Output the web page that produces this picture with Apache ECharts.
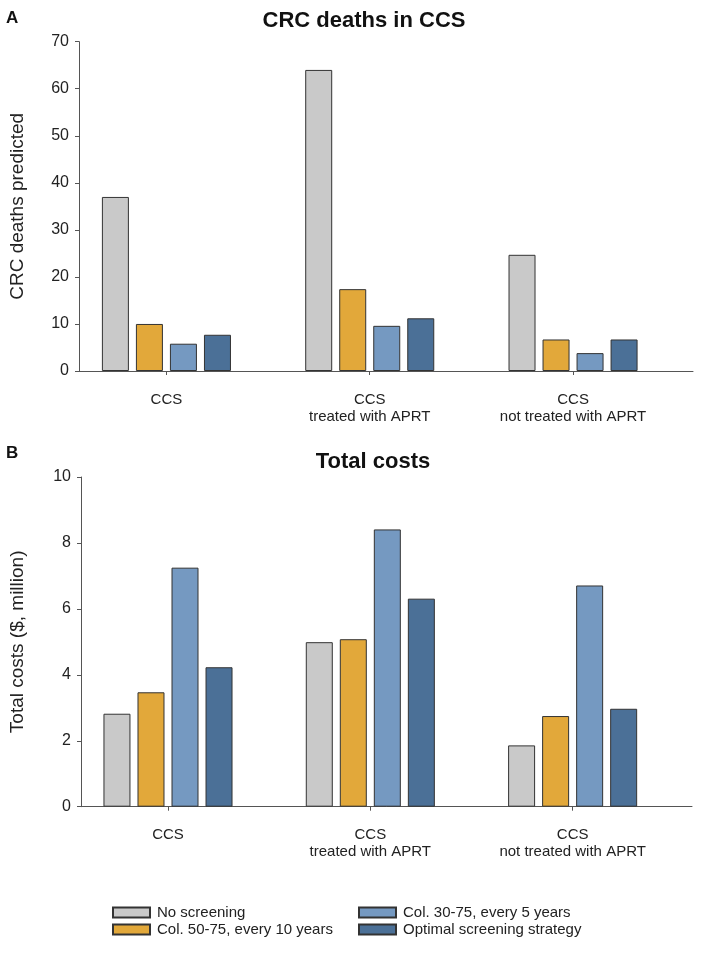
<!DOCTYPE html>
<html><head><meta charset="utf-8">
<script src="https://cdn.jsdelivr.net/npm/echarts@6/dist/echarts.min.js"></script>
<style>html,body{margin:0;padding:0;background:#fff}#c{width:701px;height:956px}</style>
</head><body><div id="c"></div>
<script>
var categories = ['CCS', 'CCS\ntreated with APRT', 'CCS\nnot treated with APRT'];
var seriesNames = ['No screening', 'Col. 50-75, every 10 years', 'Col. 30-75, every 5 years', 'Optimal screening strategy'];
var deathsNoScreening = [37, 64, 24.7];
var deathsCol5075 = [10, 17.4, 6.7];
var deathsCol3075 = [5.8, 9.6, 3.8];
var deathsOptimal = [7.7, 11.2, 6.7];
var costsNoScreening = [2.82, 4.99, 1.86];
var costsCol5075 = [3.47, 5.08, 2.75];
var costsCol3075 = [7.25, 8.41, 6.71];
var costsOptimal = [4.23, 6.31, 2.97];
var colors = ['#c9c9c9', '#e2a83a', '#7599c1', '#4b7097'];

var FONT = 'Liberation Sans, Arial, sans-serif';
function pairs(arr){ return arr.map(function(v,i){ return [i, v]; }); }
var deaths = [deathsNoScreening, deathsCol5075, deathsCol3075, deathsOptimal];
var costs = [costsNoScreening, costsCol5075, costsCol3075, costsOptimal];

function xAxis(gi){
  return {
    type: 'value', gridIndex: gi, min: -0.43, max: 2.59,
    axisLine: {show: true, onZero: false, lineStyle: {color: '#555', width: 1}},
    axisTick: {show: true, customValues: [0,1,2], length: 4, lineStyle: {color: '#555'}},
    axisLabel: {show: true, customValues: [0,1,2], margin: 20, color: '#222', fontSize: 15, fontFamily: FONT, lineHeight: 17,
      formatter: function(v){ return categories[Math.round(v)]; }},
    splitLine: {show: false}
  };
}
function yAxis(gi, max, interval, name, gap){
  return {
    type: 'value', gridIndex: gi, min: 0, max: max, interval: interval,
    name: name, nameLocation: 'middle', nameGap: gap,
    nameTextStyle: {fontSize: 19, color: '#222', fontFamily: FONT},
    axisLine: {show: true, onZero: false, lineStyle: {color: '#555', width: 1}},
    axisTick: {show: true, length: 4, lineStyle: {color: '#555'}},
    axisLabel: {margin: 10, color: '#222', fontSize: 16, fontFamily: FONT},
    splitLine: {show: false}
  };
}
var series = [];
seriesNames.forEach(function(n, k){
  series.push({type: 'bar', name: n, xAxisIndex: 0, yAxisIndex: 0, data: pairs(deaths[k]),
    barWidth: 27, barGap: '26%', itemStyle: {color: colors[k], borderColor: '#333', borderWidth: 1}});
});
seriesNames.forEach(function(n, k){
  series.push({type: 'bar', name: n, xAxisIndex: 1, yAxisIndex: 1, data: pairs(costs[k]),
    barWidth: 27, barGap: '26%', itemStyle: {color: colors[k], borderColor: '#333', borderWidth: 1}});
});

var legendBase = {orient: 'vertical', top: 905, padding: 0, itemWidth: 37, itemHeight: 10, itemGap: 2, icon: 'rect',
  textStyle: {fontSize: 15, color: '#222', fontFamily: FONT, padding: [0,0,0,2]}, selectedMode: false};

var chart = echarts.init(document.getElementById('c'), null, {renderer: 'canvas'});
chart.setOption({
  animation: false,
  backgroundColor: '#fff',
  title: [
    {text: 'A', left: 6, top: 10, padding: 0, textStyle: {fontSize: 17, fontWeight: 'bold', color: '#111', fontFamily: FONT}},
    {text: 'CRC deaths in CCS', left: 364, top: 10, padding: 0, textAlign: 'center', textStyle: {fontSize: 22, fontWeight: 'bold', color: '#111', fontFamily: FONT}},
    {text: 'B', left: 6, top: 445, padding: 0, textStyle: {fontSize: 17, fontWeight: 'bold', color: '#111', fontFamily: FONT}},
    {text: 'Total costs', left: 373, top: 451, padding: 0, textAlign: 'center', textStyle: {fontSize: 22, fontWeight: 'bold', color: '#111', fontFamily: FONT}}
  ],
  grid: [
    {left: 79, right: 8, top: 41.7, bottom: 585},
    {left: 78, right: 9, top: 477, bottom: 149.3}
  ],
  xAxis: [xAxis(0), xAxis(1)],
  yAxis: [yAxis(0, 70, 10, 'CRC deaths predicted', 52), yAxis(1, 10, 2, 'Total costs ($, million)', 54)],
  legend: [
    Object.assign({data: [seriesNames[0], seriesNames[1]], left: 112}, legendBase),
    Object.assign({data: [seriesNames[2], seriesNames[3]], left: 358}, legendBase)
  ],
  series: series
});
</script></body></html>
